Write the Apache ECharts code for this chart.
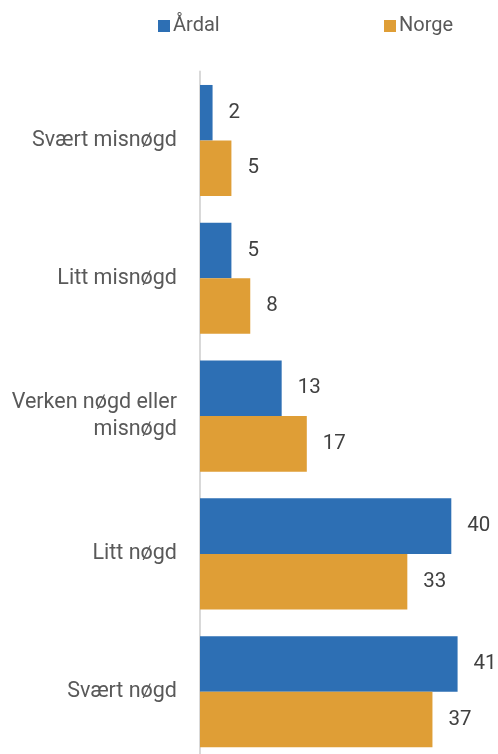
<!DOCTYPE html>
<html lang="no">

<head>
    <meta charset="UTF-8">
    <meta name="viewport" content="width=device-width, initial-scale=1.0">
    <script type="text/javascript" src="https://cdn.jsdelivr.net/npm/echarts@6/dist/echarts.min.js"></script>
    <title>Nøgd</title>
    <style>
        html, body { margin: 0; padding: 0; background: #fff; }
    </style>
</head>

<body>
    <div id="container" style="width: 498px; height: 754px"></div>
</body>
<script type="text/javascript">
    var categories = ['Svært misnøgd', 'Litt misnøgd', 'Verken nøgd eller\nmisnøgd', 'Litt nøgd', 'Svært nøgd'];
    var ardal = [2, 5, 13, 40, 41];
    var norge = [5, 8, 17, 33, 37];

    var dom = document.getElementById('container');
    var myChart = echarts.init(dom, null, { renderer: 'canvas' });

    var font = 'Roboto';
    var labelStyle = {
        show: true,
        position: 'right',
        distance: 16,
        color: '#404040',
        fontSize: 20.5,
        fontFamily: font
    };
    var legendText = { color: '#595959', fontSize: 20, fontFamily: font, padding: [0, 0, 0, -2] };

    var option = {
        animation: false,
        legend: [{
            data: ['Årdal'],
            left: 153,
            top: 11,
            icon: 'rect',
            itemWidth: 12,
            itemHeight: 12,
            textStyle: legendText
        }, {
            data: ['Norge'],
            left: 379,
            top: 11,
            icon: 'rect',
            itemWidth: 12,
            itemHeight: 12,
            textStyle: legendText
        }],
        grid: {
            left: 200,
            right: 9,
            top: 71.6,
            height: 689,
            outerBoundsMode: 'none'
        },
        xAxis: {
            type: 'value',
            min: 0,
            max: 46,
            show: false
        },
        yAxis: {
            type: 'category',
            data: categories,
            inverse: true,
            axisLine: { show: true, lineStyle: { color: '#d9d9d9', width: 2 } },
            axisTick: { show: false },
            axisLabel: {
                margin: 23,
                color: '#595959',
                fontSize: 21.5,
                fontFamily: font,
                align: 'right',
                lineHeight: 27
            }
        },
        series: [{
            name: 'Årdal',
            type: 'bar',
            data: ardal,
            barGap: '0%',
            barCategoryGap: '19.4%',
            itemStyle: { color: '#2d6fb4' },
            label: labelStyle
        }, {
            name: 'Norge',
            type: 'bar',
            data: norge,
            barGap: '0%',
            barCategoryGap: '19.4%',
            itemStyle: { color: '#df9e36' },
            label: labelStyle
        }]
    };

    myChart.setOption(option);
    window.addEventListener('resize', myChart.resize);
</script>

</html>
